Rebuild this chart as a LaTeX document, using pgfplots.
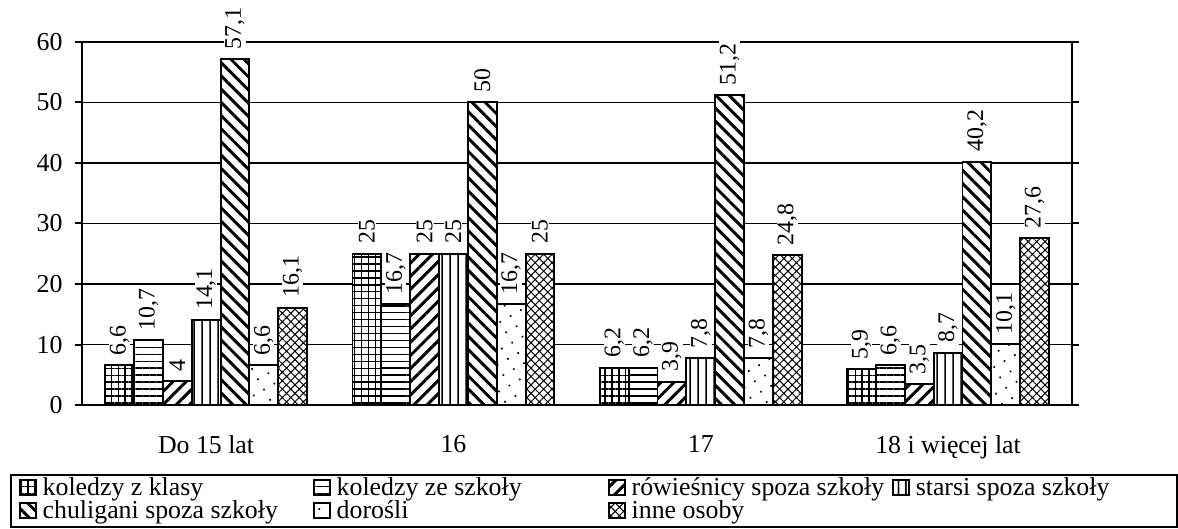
\documentclass[border=0pt]{standalone}
\usepackage{fontspec}
\setmainfont{Liberation Serif}
\usepackage{pgfplots}
\pgfplotsset{compat=1.18}
\usetikzlibrary{patterns.meta}

\pgfplotstableread{
x s1 s2 s3 s4 s5 s6 s7
0 6.6 10.7 4 14.1 57.1 6.6 16.1
1 25 16.7 25 25 50 16.7 25
2 6.2 6.2 3.9 7.8 51.2 7.8 24.8
3 5.9 6.6 3.5 8.7 40.2 10.1 27.6
}\dane

\newcommand{\kol}[2]{\makebox[#1][l]{#2}}

\begin{document}
\begin{tikzpicture}[font=\fontsize{13}{15}\selectfont]
\begin{axis}[
  scale only axis, width=498pt, height=183pt,
  ybar=0pt, bar width=0.1166,
  xmin=-0.5, xmax=3.5, ymin=0, ymax=60,
  xtick={0,1,2,3},
  xticklabels={Do 15 lat,16,17,18 i więcej lat},
  xtick style={draw=none},
  xticklabel style={yshift=-8pt},
  yticklabel style={xshift=-3pt},
  ticklabel style={font=\fontsize{13}{15}\selectfont},
  ytick={0,10,...,60},
  ytick style={line width=1pt, black},
  tick align=outside, major tick length=3.5pt,
  ymajorgrids, grid style={black, line width=0.8pt},
  axis line style={line width=1pt},
  /pgf/number format/assume math mode=true,
  /pgf/number format/use comma,
  clip=false,
  nodes near coords,
  every node near coord/.append style={rotate=90, xshift=3.5pt, anchor=west, fill=white,
    inner xsep=1pt, inner ysep=0.5pt, font=\fontsize{12}{14}\selectfont},
  every axis plot/.append style={draw=black, line width=1pt, fill=white},
  legend columns=4,
  legend cell align=left,
  legend style={at={(rel axis cs:0,0)}, anchor=north west, xshift=-36.5pt, yshift=-34.5pt,
    draw=black, line width=1pt, inner xsep=4pt, inner ysep=1.5pt, column sep=0pt, row sep=0pt,
    font=\fontsize{13}{15}\selectfont,
    nodes={inner xsep=3pt, inner ysep=0pt, text height=9pt, text depth=2.7pt}},
  legend image code/.code={\draw[#1, line width=1pt] (0pt,-2.7pt) rectangle (8pt,4.8pt);},
]
\addplot[postaction={pattern={Hatch[angle=0, distance=3.5pt, line width=0.7pt]}}] table[x=x,y=s1]{\dane};
\addlegendentry{\kol{133pt}{koledzy z klasy}}
\addplot[postaction={pattern={Lines[angle=0, distance=3.5pt, line width=0.8pt]}}] table[x=x,y=s2]{\dane};
\addlegendentry{\kol{133.5pt}{koledzy ze szkoły}}
\addplot[postaction={pattern={Lines[angle=45, distance=4.7pt, line width=1.5pt]}}] table[x=x,y=s3]{\dane};
\addlegendentry{\kol{128pt}{rówieśnicy spoza szkoły}}
\addplot[postaction={pattern={Lines[angle=90, distance=4pt, line width=0.8pt]}}] table[x=x,y=s4]{\dane};
\addlegendentry{\kol{124.5pt}{starsi spoza szkoły}}
\addplot[postaction={pattern={Lines[angle=-45, distance=4.7pt, line width=1.5pt]}}] table[x=x,y=s5]{\dane};
\addlegendentry{chuligani spoza szkoły}
\addplot[postaction={pattern={Dots[distance=6pt, radius=0.6pt, angle=30]}}] table[x=x,y=s6]{\dane};
\addlegendentry{dorośli}
\addplot[postaction={pattern={Hatch[angle=45, distance=3pt, line width=0.5pt]}}] table[x=x,y=s7]{\dane};
\addlegendentry{inne osoby}
\end{axis}
\path ([xshift=-41.5pt, yshift=21pt]current axis.north west);
\end{tikzpicture}
\end{document}
